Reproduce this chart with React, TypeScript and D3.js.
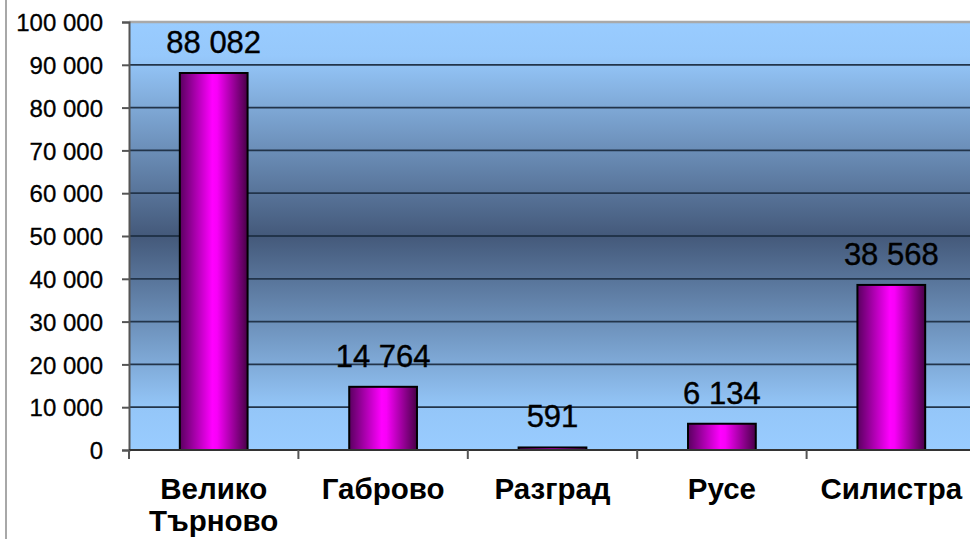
import React, { useRef, useEffect } from 'react';
import * as d3 from 'd3';

const categories = [["Велико", "Търново"], ["Габрово"], ["Разград"], ["Русе"], ["Силистра"]];
const values = [88082, 14764, 591, 6134, 38568];
const yTicks = [0, 10000, 20000, 30000, 40000, 50000, 60000, 70000, 80000, 90000, 100000];

const App = () => {
    const ref = useRef<SVGSVGElement>(null);

    useEffect(() => {
        const svg = d3.select(ref.current);
        svg.selectAll("*").remove();

        const width = 970, height = 539;
        const left = 129, right = 976, top = 22, bottom = 450;
        const font = "'Liberation Sans', Arial, sans-serif";

        const locale = d3.formatLocale({ decimal: ",", thousands: " ", grouping: [3], currency: ["", ""] });
        const fmt = locale.format(",d");

        const x = d3.scaleBand<number>().domain(d3.range(values.length)).range([left, right]).paddingInner(0.6).paddingOuter(0.3);
        const y = d3.scaleLinear().domain([0, 100000]).range([bottom, top]);

        svg.attr("width", width).attr("height", height);

        const defs = svg.append("defs");
        const bg = defs.append("linearGradient").attr("id", "bg").attr("x1", 0).attr("x2", 0).attr("y1", 0).attr("y2", 1);
        [[0, "#99ccff"], [0.08, "#96c8fb"], [0.5, "#44597a"], [0.9, "#94c6f8"], [1, "#99ccff"]].forEach(([o, c]) =>
            bg.append("stop").attr("offset", o as number).attr("stop-color", c as string));
        const bar = defs.append("linearGradient").attr("id", "bar").attr("x1", 0).attr("x2", 1).attr("y1", 0).attr("y2", 0);
        [[0, "#5a0060"], [0.48, "#ff00ff"], [0.55, "#f800f8"], [1, "#480048"]].forEach(([o, c]) =>
            bar.append("stop").attr("offset", o as number).attr("stop-color", c as string));

        svg.append("rect").attr("width", width).attr("height", height).attr("fill", "#fff");
        // left chart border
        svg.append("line").attr("x1", 6).attr("x2", 6).attr("y1", 0).attr("y2", height)
            .attr("stroke", "#a8a8a8").attr("stroke-width", 2);

        // plot area
        svg.append("rect").attr("x", left).attr("y", top).attr("width", right - left).attr("height", bottom - top)
            .attr("fill", "url(#bg)");

        // gridlines
        svg.append("g").selectAll("line").data(yTicks.filter(t => t > 0)).join("line")
            .attr("x1", left).attr("x2", right)
            .attr("y1", d => y(d)).attr("y2", d => y(d))
            .attr("stroke", d => d === 100000 ? "#a9a9a9" : "#22344a")
            .attr("stroke-width", d => d === 100000 ? 2.5 : 1.8);

        // bars
        svg.append("g").selectAll("rect").data(values).join("rect")
            .attr("x", (d, i) => x(i)!)
            .attr("y", d => y(d))
            .attr("width", x.bandwidth())
            .attr("height", d => y(0) - y(d))
            .attr("fill", "url(#bar)")
            .attr("stroke", "#000")
            .attr("stroke-width", 2);

        // value labels
        svg.append("g").selectAll("text").data(values).join("text")
            .attr("x", (d, i) => x(i)! + x.bandwidth() / 2)
            .attr("y", d => y(d) - 20)
            .attr("text-anchor", "middle")
            .attr("font-family", font)
            .attr("font-size", 31)
            .attr("fill", "#000")
            .attr("stroke", "#000")
            .attr("stroke-width", 0.4)
            .text(d => fmt(d));

        // y axis
        const yAxis = svg.append("g").attr("transform", `translate(${left},0)`)
            .call(d3.axisLeft(y).tickValues(yTicks).tickSize(7).tickPadding(19).tickFormat(d => fmt(d as number)));
        yAxis.select(".domain").attr("stroke", "#555").attr("stroke-width", 2);
        yAxis.selectAll(".tick line").attr("stroke", "#555").attr("stroke-width", 2);
        yAxis.selectAll("text").attr("font-family", font).attr("font-size", 24).attr("fill", "#000")
            .attr("stroke", "#000").attr("stroke-width", 0.3).attr("dy", "0.36em");

        // x axis
        const bounds = d3.range(values.length + 1).map(i => left + i * (right - left) / values.length);
        svg.append("line").attr("x1", left).attr("x2", right).attr("y1", bottom).attr("y2", bottom)
            .attr("stroke", "#333").attr("stroke-width", 2);
        svg.append("g").selectAll("line").data(bounds).join("line")
            .attr("x1", d => d).attr("x2", d => d).attr("y1", bottom).attr("y2", bottom + 9)
            .attr("stroke", "#555").attr("stroke-width", 2);

        const catLabels = svg.append("g").selectAll("text").data(categories).join("text")
            .attr("text-anchor", "middle")
            .attr("font-family", font)
            .attr("font-size", 29.5)
            .attr("font-weight", "bold")
            .attr("fill", "#000");
        catLabels.each(function (lines, i) {
            const cx = x(i)! + x.bandwidth() / 2;
            d3.select(this).selectAll("tspan").data(lines).join("tspan")
                .attr("x", cx)
                .attr("y", (d, j) => 499 + j * 32)
                .text(d => d);
        });
    }, []);

    return (
        <div style={{ position: 'absolute', left: 0, top: 0 }}>
            <svg ref={ref} style={{ display: 'block' }} />
        </div>
    );
};

export default App;
